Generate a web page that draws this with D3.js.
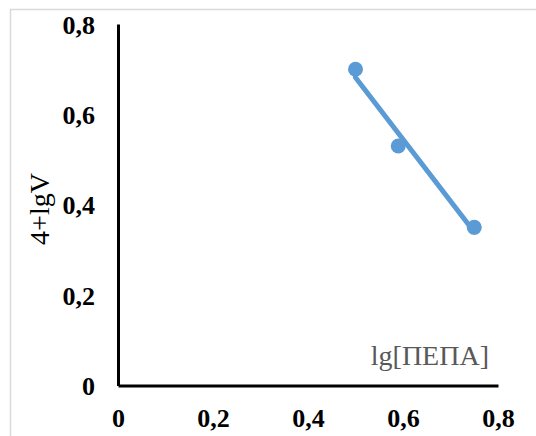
<!DOCTYPE html>
<html>
<head>
<meta charset="utf-8">
<script src="https://cdn.jsdelivr.net/npm/d3@7"></script>
<style>
  body { margin: 0; background: #fff; }
</style>
</head>
<body>
<div id="chart"></div>
<script>
// data
var xVals = [0.5, 0.59, 0.75];
var yVals = [0.70, 0.53, 0.35];
var xTicks = [0, 0.2, 0.4, 0.6, 0.8];
var yTicks = [0, 0.2, 0.4, 0.6, 0.8];
var xTitle = 'lg[ПЕПА]';
var yTitle = '4+lgV';

var width = 536, height = 436;
var serif = '"Liberation Serif", "Times New Roman", serif';
var fmt = function(d) { return d === 0 ? '0' : String(d).replace('.', ','); };

var svg = d3.select('#chart').append('svg')
    .attr('width', width)
    .attr('height', height);

// light frame of the chart area
svg.append('rect')
    .attr('x', 10.5).attr('y', 9.5)
    .attr('width', 600).attr('height', 600)
    .attr('fill', 'none')
    .attr('stroke', '#d9d9d9')
    .attr('stroke-width', 1.5);

var x = d3.scaleLinear().domain([0, 0.8]).range([118, 498]);
var y = d3.scaleLinear().domain([0, 0.8]).range([385.5, 24]);

// axes
var xAxis = svg.append('g')
    .attr('transform', 'translate(0,' + y(0) + ')')
    .call(d3.axisBottom(x).tickValues(xTicks).tickFormat(fmt).tickSize(0).tickPadding(23));
var yAxis = svg.append('g')
    .attr('transform', 'translate(' + x(0) + ',0)')
    .call(d3.axisLeft(y).tickValues(yTicks).tickFormat(fmt).tickSize(0).tickPadding(23));

[xAxis, yAxis].forEach(function(g) {
  g.attr('font-family', null).attr('font-size', null);
  g.select('.domain').attr('stroke', '#000').attr('stroke-width', 3);
  g.selectAll('text')
    .style('font-family', serif)
    .style('font-weight', 'bold')
    .style('font-size', '26px')
    .attr('fill', '#000');
});
yAxis.selectAll('text').attr('dy', '0.35em');

// linear trend line fitted to the points
var n = xVals.length;
var mx = d3.mean(xVals), my = d3.mean(yVals);
var sxy = 0, sxx = 0;
for (var i = 0; i < n; i++) {
  sxy += (xVals[i] - mx) * (yVals[i] - my);
  sxx += (xVals[i] - mx) * (xVals[i] - mx);
}
var slope = sxy / sxx, icpt = my - slope * mx;
var x0 = d3.min(xVals), x1 = d3.max(xVals);

svg.append('line')
    .attr('x1', x(x0)).attr('y1', y(icpt + slope * x0))
    .attr('x2', x(x1)).attr('y2', y(icpt + slope * x1))
    .attr('stroke', '#5b9bd5')
    .attr('stroke-width', 5)
    .attr('stroke-linecap', 'round');

svg.selectAll('circle.pt')
    .data(xVals)
    .enter().append('circle')
    .attr('class', 'pt')
    .attr('cx', function(d) { return x(d); })
    .attr('cy', function(d, i) { return y(yVals[i]); })
    .attr('r', 7.5)
    .attr('fill', '#5b9bd5');

// axis titles
svg.append('text')
    .attr('x', 489).attr('y', 365)
    .attr('text-anchor', 'end')
    .style('font-family', serif)
    .style('font-size', '28px')
    .attr('fill', '#595959')
    .text(xTitle);

svg.append('text')
    .attr('transform', 'translate(49,209) rotate(-90)')
    .attr('text-anchor', 'middle')
    .style('font-family', serif)
    .style('font-size', '28px')
    .attr('fill', '#000')
    .text(yTitle);
</script>
</body>
</html>
